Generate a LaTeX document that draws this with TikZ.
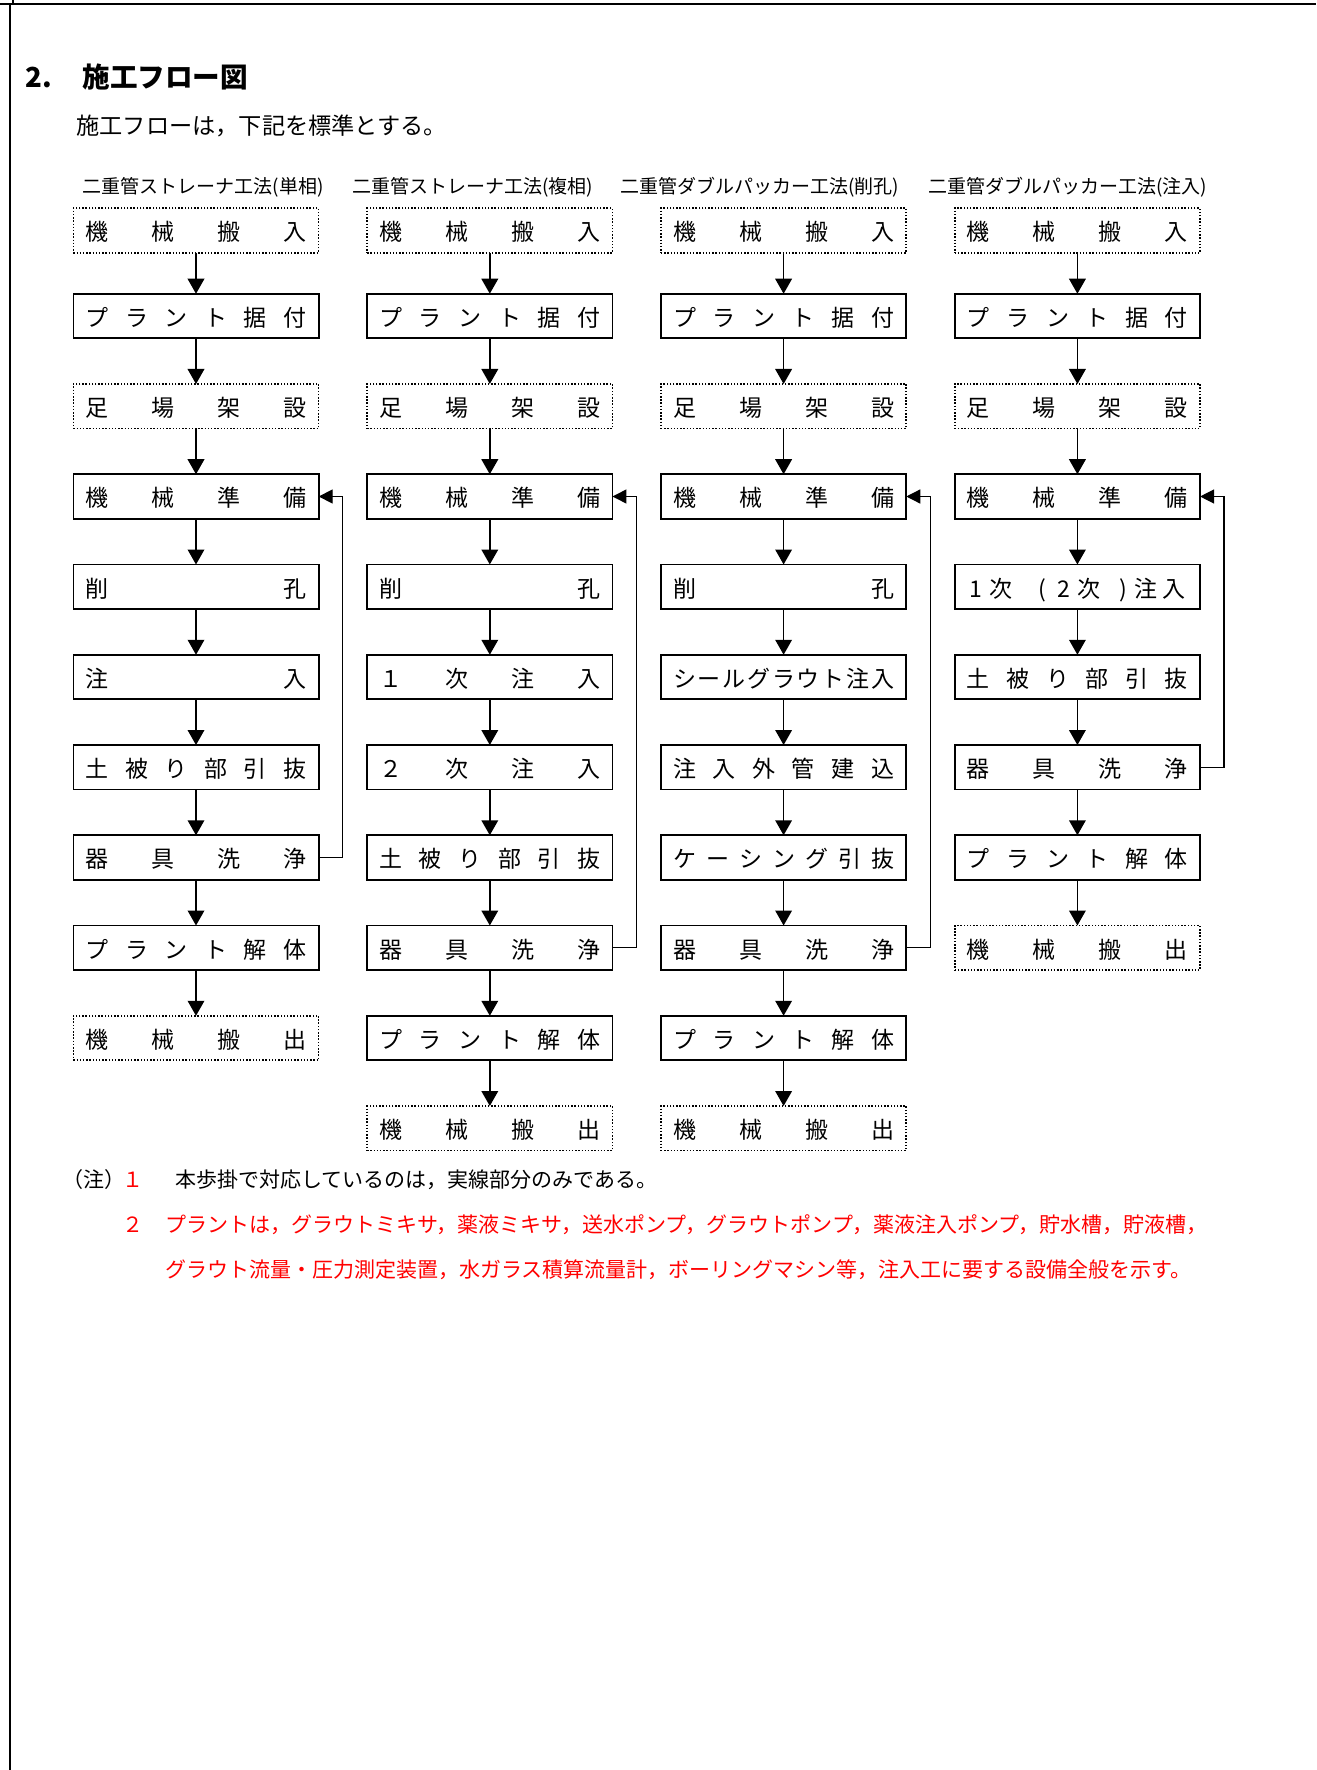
\documentclass[tikz,border=0pt]{standalone}
\usepackage{fontspec}
\setmainfont{Noto Sans CJK JP}
\usetikzlibrary{arrows.meta}
\makeatletter
\def\spr#1{\hbox to 110.5pt{\spr@a#1\relax}}
\def\spr@a#1{#1\spr@b}
\def\spr@b#1{\ifx\relax#1\else\hfill#1\expandafter\spr@b\fi}
\makeatother
\newcommand\pl[2]{\rlap{\kern#1pt #2}}
\tikzset{
  solidbox/.style={draw, line width=0.85pt, minimum width=122.65pt, minimum height=22.25pt,
    inner sep=0pt, outer sep=0pt, text height=11.6pt, text depth=1.3pt,
    font=\fontsize{11.5pt}{12pt}\selectfont},
  dotbox/.style={solidbox, line width=0.8pt, dash pattern=on 0.75pt off 0.85pt},
  arr/.style={line width=0.85pt, -{Triangle[width=8.3pt,length=7.5pt]}},
  back/.style={line width=0.65pt, -{Triangle[width=7pt,length=7pt]}},
  lbl/.style={anchor=west, inner sep=0pt, font=\fontsize{9.5pt}{10pt}\selectfont},
  note/.style={anchor=west, inner sep=0pt, font=\fontsize{10.5pt}{11pt}\selectfont},
}
\begin{document}
\begin{tikzpicture}[x=0.5pt,y=-0.5pt]
\useasboundingbox (0,0) rectangle (1316,1770);
% page frame
\draw[line width=1pt] (0,4) -- (1316,4);
\draw[line width=1pt] (9.7,4) -- (9.7,1770);
\draw[line width=1pt] (12.7,0) -- (12.7,4);
% heading
\node[anchor=west, inner sep=0pt, font=\fontsize{13.8pt}{14pt}\selectfont\bfseries] (h1) at (24.8,77.5) {2.};
\node[anchor=west, inner sep=0pt, font=\fontsize{13.8pt}{14pt}\selectfont\bfseries] (h2) at (82,77.5) {施工フロー図};
\node[anchor=west, inner sep=0pt, font=\fontsize{11.6pt}{12pt}\selectfont] (sub) at (76,126) {施工フローは，下記を標準とする。};
% column labels
\node[lbl] (l1) at (82.4,187) {二重管ストレーナ工法(単相)};
\node[lbl] (l2) at (352,187) {二重管ストレーナ工法(複相)};
\node[lbl] (l3) at (619.6,187) {二重管ダブルパッカー工法(削孔)};
\node[lbl] (l4) at (927.8,187) {二重管ダブルパッカー工法(注入)};
% column 1
\node[dotbox]   (a1) at (196,230.5)   {\spr{機械搬入}};
\node[solidbox] (a2) at (196,316)     {\spr{プラント据付}};
\node[dotbox]   (a3) at (196,406.25)  {\spr{足場架設}};
\node[solidbox] (a4) at (196,496.5)   {\spr{機械準備}};
\node[solidbox] (a5) at (196,586.75)  {\spr{削孔}};
\node[solidbox] (a6) at (196,677)     {\spr{注入}};
\node[solidbox] (a7) at (196,767.25)  {\spr{土被り部引抜}};
\node[solidbox] (a8) at (196,857.5)   {\spr{器具洗浄}};
\node[solidbox] (a9) at (196,947.75)  {\spr{プラント解体}};
\node[dotbox]   (a10) at (196,1038)   {\spr{機械搬出}};
% column 2
\node[dotbox]   (b1) at (489.8,230.5)   {\spr{機械搬入}};
\node[solidbox] (b2) at (489.8,316)     {\spr{プラント据付}};
\node[dotbox]   (b3) at (489.8,406.25)  {\spr{足場架設}};
\node[solidbox] (b4) at (489.8,496.5)   {\spr{機械準備}};
\node[solidbox] (b5) at (489.8,586.75)  {\spr{削孔}};
\node[solidbox] (b6) at (489.8,677)     {\spr{１次注入}};
\node[solidbox] (b7) at (489.8,767.25)  {\spr{２次注入}};
\node[solidbox] (b8) at (489.8,857.5)   {\spr{土被り部引抜}};
\node[solidbox] (b9) at (489.8,947.75)  {\spr{器具洗浄}};
\node[solidbox] (b10) at (489.8,1038)   {\spr{プラント解体}};
\node[dotbox]   (b11) at (489.8,1128.25){\spr{機械搬出}};
% column 3
\node[dotbox]   (c1) at (783.6,230.5)   {\spr{機械搬入}};
\node[solidbox] (c2) at (783.6,316)     {\spr{プラント据付}};
\node[dotbox]   (c3) at (783.6,406.25)  {\spr{足場架設}};
\node[solidbox] (c4) at (783.6,496.5)   {\spr{機械準備}};
\node[solidbox] (c5) at (783.6,586.75)  {\spr{削孔}};
\node[solidbox] (c6) at (783.6,677)     {\spr{シールグラウト注入}};
\node[solidbox] (c7) at (783.6,767.25)  {\spr{注入外管建込}};
\node[solidbox] (c8) at (783.6,857.5)   {\spr{ケーシング引抜}};
\node[solidbox] (c9) at (783.6,947.75)  {\spr{器具洗浄}};
\node[solidbox] (c10) at (783.6,1038)   {\spr{プラント解体}};
\node[dotbox]   (c11) at (783.6,1128.25){\spr{機械搬出}};
% column 4
\node[dotbox]   (d1) at (1077.4,230.5)   {\spr{機械搬入}};
\node[solidbox] (d2) at (1077.4,316)     {\spr{プラント据付}};
\node[dotbox]   (d3) at (1077.4,406.25)  {\spr{足場架設}};
\node[solidbox] (d4) at (1077.4,496.5)   {\spr{機械準備}};
\node[solidbox] (d5) at (1077.4,586.75)  {\hbox to 110.5pt{\pl{1.35}{1}\pl{11.5}{次}\pl{36}{(}\pl{45.3}{2}\pl{55.5}{次}\pl{76.5}{)}\pl{84}{注}\pl{98}{入}\hfil}};
\node[solidbox] (d6) at (1077.4,677)     {\spr{土被り部引抜}};
\node[solidbox] (d7) at (1077.4,767.25)  {\spr{器具洗浄}};
\node[solidbox] (d8) at (1077.4,857.5)   {\spr{プラント解体}};
\node[dotbox]   (d9) at (1077.4,947.75)  {\spr{機械搬出}};
% arrows
\foreach \p/\q in {a1/a2,a2/a3,a3/a4,a4/a5,a5/a6,a6/a7,a7/a8,a8/a9,a9/a10,
  b1/b2,b2/b3,b3/b4,b4/b5,b5/b6,b6/b7,b7/b8,b8/b9,b9/b10,b10/b11,
  c1/c2,c2/c3,c3/c4,c4/c5,c5/c6,c6/c7,c7/c8,c8/c9,c9/c10,c10/c11,
  d1/d2,d2/d3,d3/d4,d4/d5,d5/d6,d6/d7,d7/d8,d8/d9}
  \draw[arr] (\p.south) -- (\q.north);
% loops
\draw[back] (a8.east) -- ++(24,0) |- (a4.east);
\draw[back] (b9.east) -- ++(24,0) |- (b4.east);
\draw[back] (c9.east) -- ++(24,0) |- (c4.east);
\draw[back] (d7.east) -- ++(24,0) |- (d4.east);
% notes
\node[note] (n0) at (62,1180) {（注）};
\node[note, text=red] (n1) at (122,1180) {１};
\node[note] (n1t) at (175,1180) {本歩掛で対応しているのは，実線部分のみである。};
\node[note, text=red] (n2) at (122,1224.5) {２};
\node[note, text=red] (n2t) at (165,1224.5) {プラントは，グラウトミキサ，薬液ミキサ，送水ポンプ，グラウトポンプ，薬液注入ポンプ，貯水槽，貯液槽，};
\node[note, text=red] (n3t) at (165,1269.5) {グラウト流量・圧力測定装置，水ガラス積算流量計，ボーリングマシン等，注入工に要する設備全般を示す。};
\end{tikzpicture}
\end{document}
